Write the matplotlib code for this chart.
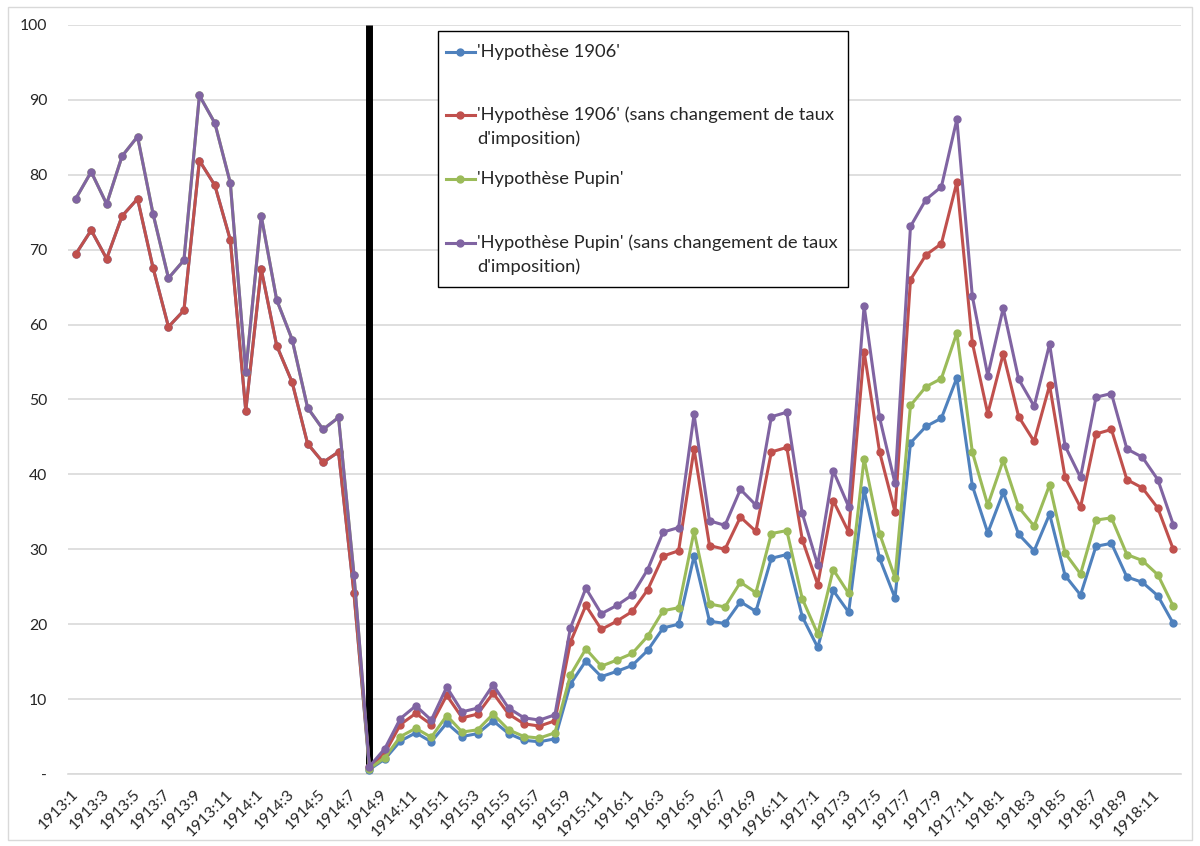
import matplotlib.pyplot as plt
from matplotlib.lines import Line2D
from matplotlib.patches import Rectangle

plt.rcParams['font.family'] = ['Lato', 'DejaVu Sans']

# monthly categories 1913:1 .. 1918:12
months = [f"{y}:{m}" for y in range(1913, 1919) for m in range(1, 13)]

# 'Hypothèse 1906' (sans changement de taux d'imposition)
h1906_sans = [69.4, 72.6, 68.8, 74.5, 76.8, 67.6, 59.7, 61.9, 81.9, 78.6, 71.3, 48.5,
              67.4, 57.2, 52.3, 44.1, 41.6, 43.0, 24.1, 0.9, 2.8, 6.6, 8.1, 6.6,
              10.5, 7.5, 8.0, 10.8, 8.0, 6.7, 6.4, 7.1, 17.6, 22.5, 19.3, 20.4,
              21.7, 24.6, 29.1, 29.8, 43.4, 30.5, 30.0, 34.3, 32.4, 43.0, 43.6, 31.3,
              25.3, 36.5, 32.3, 56.4, 43.0, 35.0, 66.0, 69.3, 70.8, 79.0, 57.6, 48.1,
              56.1, 47.7, 44.4, 51.9, 39.6, 35.6, 45.4, 46.0, 39.3, 38.2, 35.5, 30.0]

# 'Hypothèse 1906' : same as above until the war
h1906 = h1906_sans[:19] + [
    0.6, 2.0, 4.4, 5.5, 4.3,
    6.8, 5.0, 5.4, 7.1, 5.4, 4.5, 4.3, 4.7, 12.0, 15.1, 13.0, 13.7,
    14.5, 16.5, 19.5, 20.0, 29.1, 20.4, 20.1, 23.0, 21.7, 28.8, 29.3, 21.0,
    16.9, 24.5, 21.6, 37.9, 28.8, 23.5, 44.2, 46.4, 47.5, 52.9, 38.5, 32.2,
    37.6, 32.0, 29.8, 34.7, 26.5, 23.9, 30.4, 30.8, 26.3, 25.6, 23.8, 20.1]

# 'Hypothèse Pupin' (sans changement de taux d'imposition)
pupin_sans = [76.8, 80.4, 76.1, 82.5, 85.1, 74.8, 66.2, 68.6, 90.6, 86.9, 78.9, 53.7,
              74.5, 63.3, 58.0, 48.9, 46.0, 47.6, 26.6, 1.0, 3.4, 7.4, 9.1, 7.2,
              11.6, 8.3, 8.8, 11.9, 8.8, 7.5, 7.2, 7.9, 19.5, 24.8, 21.4, 22.5,
              23.9, 27.3, 32.3, 32.9, 48.0, 33.8, 33.2, 38.0, 35.9, 47.7, 48.3, 34.8,
              27.9, 40.5, 35.7, 62.5, 47.6, 38.8, 73.1, 76.7, 78.4, 87.4, 63.8, 53.2,
              62.2, 52.7, 49.1, 57.4, 43.8, 39.6, 50.3, 50.8, 43.4, 42.3, 39.3, 33.3]

# 'Hypothèse Pupin' : same as above until the war
pupin = pupin_sans[:19] + [
    0.7, 2.2, 5.0, 6.1, 4.9,
    7.8, 5.6, 5.9, 8.0, 5.9, 5.0, 4.8, 5.5, 13.2, 16.7, 14.4, 15.2,
    16.1, 18.4, 21.8, 22.2, 32.4, 22.7, 22.3, 25.6, 24.2, 32.1, 32.5, 23.4,
    18.7, 27.3, 24.1, 42.1, 32.1, 26.2, 49.2, 51.7, 52.8, 58.9, 43.0, 35.9,
    41.9, 35.6, 33.1, 38.6, 29.5, 26.7, 33.9, 34.2, 29.3, 28.5, 26.6, 22.4]

labels = ["'Hypothèse 1906'",
          "'Hypothèse 1906' (sans changement de taux\nd'imposition)",
          "'Hypothèse Pupin'",
          "'Hypothèse Pupin' (sans changement de taux\nd'imposition)"]
series = [h1906, h1906_sans, pupin, pupin_sans]
colors = ['#4F81BD', '#C0504D', '#9BBB59', '#8064A2']

war_month = '1914:8'

W, H = 1200, 846
fig = plt.figure(figsize=(W / 100, H / 100), dpi=100)
ax = fig.add_axes([68 / W, 1 - 774 / H, (1181 - 68) / W, (774 - 25) / H])

x = list(range(len(months)))
for ys, c in zip(series, colors):
    ax.plot(x, ys, color=c, lw=2.2, marker='o', ms=5, zorder=3)

# start of the war
xw = months.index(war_month)
ax.plot([xw, xw], [0, 100], color='black', lw=5, zorder=2.5, solid_capstyle='butt')

ax.set_xlim(-0.5, len(months) - 0.5)
ax.set_ylim(0, 100)
ax.set_yticks(range(0, 101, 10))
ax.set_yticklabels(['-'] + [str(v) for v in range(10, 101, 10)], fontsize=11.3,
                   color='#262626')
ax.set_xticks(x[::2])
ax.set_xticklabels(months[::2], rotation=45, ha='right', va='center',
                   rotation_mode='anchor', fontsize=11.3, color='#262626')
ax.tick_params(length=0)
ax.tick_params(axis='y', pad=15)
ax.tick_params(axis='x', pad=13)
ax.grid(axis='y', color='#D9D9D9', lw=1.2)
ax.set_axisbelow(True)
for s in ['top', 'right', 'left']:
    ax.spines[s].set_visible(False)
ax.spines['bottom'].set_color('#D9D9D9')
ax.spines['bottom'].set_linewidth(1.2)


# legend box drawn in figure pixels
def fx(px):
    return px / W


def fy(py):
    return 1 - py / H


fig.add_artist(Rectangle((fx(438), fy(287)), fx(848) - fx(438), (287 - 31) / H,
                         transform=fig.transFigure, facecolor='white',
                         edgecolor='black', lw=1, zorder=5))
rows = [52, 115, 179, 243]
for lab, c, yr in zip(labels, colors, rows):
    fig.add_artist(Line2D([fx(446), fx(475)], [fy(yr), fy(yr)], color=c, lw=2.2,
                          transform=fig.transFigure, zorder=6))
    fig.add_artist(Line2D([fx(460)], [fy(yr)], color=c, marker='o', ms=5,
                          transform=fig.transFigure, zorder=6))
    for i, line in enumerate(lab.split('\n')):
        fig.text(fx(477), fy(yr + 23.5 * i), line, fontsize=13.2, color='#262626',
                 va='center', ha='left', zorder=7)

# chart frame
fig.add_artist(Rectangle((fx(8), fy(840)), fx(1192) - fx(8), (840 - 7) / H,
                         transform=fig.transFigure, fill=False,
                         edgecolor='#D9D9D9', lw=1))

fig.savefig('out.png', dpi=100)
